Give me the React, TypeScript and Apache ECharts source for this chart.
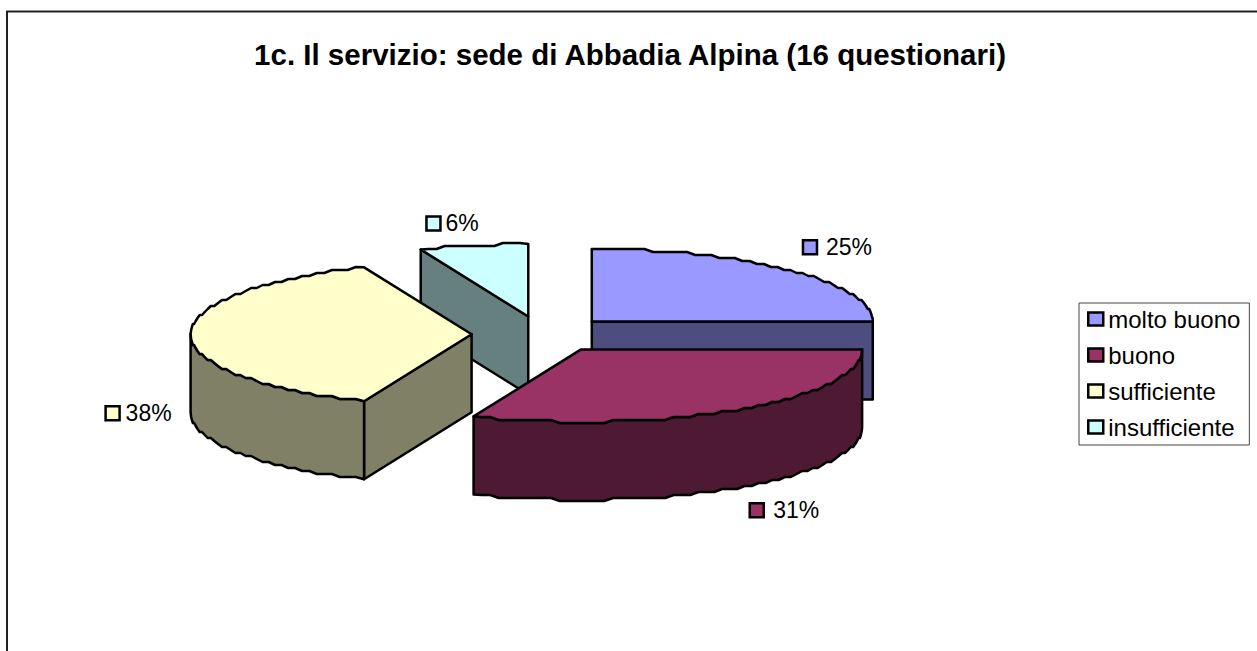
import React, { useEffect, useRef } from "react";
import * as echarts from "echarts";

const TITLE = "1c. Il servizio: sede di Abbadia Alpina (16 questionari)";
const categories = ["molto buono", "buono", "sufficiente", "insufficiente"];
const counts = [4, 5, 6, 1];
const topColors = ["#9999FF", "#993366", "#FFFFCC", "#CCFFFF"];
const wallColors = ["#4D4D80", "#4D1933", "#808066", "#668080"];
// label anchor relative to the slice's bisector point on the rim
const labelOffsets = [
  [11.5, -23],
  [11.5, 100.5],
  [-86, 79],
  [-48, -22],
];
const labelTextGaps = [24, 24.5, 21, 20];
const drawOrderZ = [3, 5, 4, 2];

const CX = 542;
const CY = 334.3;
const RX = 281;
const RY = 72.5;
const DEPTH = 78;
const EXPLODE = 70.4;
const RATIO = RY / RX;
const STEP = 3;

const total = counts.reduce((a, b) => a + b, 0);
const q = (v: number) => Math.round(v / STEP) * STEP;

function arcPoints(ax: number, ay: number, a0: number, a1: number, dy = 0) {
  const n = Math.max(2, Math.ceil(((a1 - a0) * RX) / 9));
  const pts: number[][] = [];
  for (let i = 0; i <= n; i++) {
    const t = a0 + ((a1 - a0) * i) / n;
    const x = ax + RX * Math.sin(t);
    const y = ay - RY * Math.cos(t);
    const keep = i === 0 || i === n;
    pts.push(keep ? [x, y + dy] : [x, q(y) + dy]);
  }
  return pts;
}

function renderSlice(idx: number) {
  return (_params: any, api: any) => {
    const before = counts.slice(0, idx).reduce((a, b) => a + b, 0);
    const value = api.value(0);
    const a0 = (before / total) * Math.PI * 2;
    const a1 = ((before + value) / total) * Math.PI * 2;
    const mid = (a0 + a1) / 2;
    const ax = CX + EXPLODE * Math.sin(mid);
    const ay = CY - EXPLODE * RATIO * Math.cos(mid);
    const lineStyle = { stroke: "#000", lineWidth: 2.5, lineJoin: "round" };
    const children: any[] = [];
    const wall = wallColors[idx];
    const face = (angle: number, normal: number) => {
      if (Math.cos(normal) >= -1e-6) return;
      const ex = ax + RX * Math.sin(angle);
      const ey = ay - RY * Math.cos(angle);
      children.push({
        type: "polygon",
        shape: { points: [[ax, ay], [ex, ey], [ex, ey + DEPTH], [ax, ay + DEPTH]] },
        style: { fill: wall, ...lineStyle },
      });
    };
    face(a0, a0 - Math.PI / 2);
    face(a1, a1 + Math.PI / 2);
    // outer wall: the part of the rim that faces the viewer
    const w0 = Math.max(a0, Math.PI / 2);
    const w1 = Math.min(a1, (Math.PI * 3) / 2);
    if (w1 > w0) {
      const upper = arcPoints(ax, ay, w0, w1);
      const lower = arcPoints(ax, ay, w0, w1, DEPTH).reverse();
      children.push({
        type: "polygon",
        shape: { points: [...upper, ...lower] },
        style: { fill: wall, ...lineStyle },
      });
    }
    // top face
    children.push({
      type: "polygon",
      shape: { points: [[ax, ay], ...arcPoints(ax, ay, a0, a1)] },
      style: { fill: topColors[idx], ...lineStyle },
    });
    // data label with its colour key
    const mx = ax + RX * Math.sin(mid) + labelOffsets[idx][0];
    const my = ay - RY * Math.cos(mid) + labelOffsets[idx][1];
    children.push({
      type: "rect",
      shape: { x: mx + 1, y: my - 7, width: 14, height: 14 },
      style: { fill: topColors[idx], stroke: "#000", lineWidth: 2.5 },
    });
    children.push({
      type: "text",
      x: mx + labelTextGaps[idx],
      y: my,
      style: {
        text: Math.round((value / total) * 100) + "%",
        fill: "#000",
        font: '23px "Liberation Sans"',
        verticalAlign: "middle",
        align: "left",
      },
    });
    return { type: "group", children };
  };
}

export default function App() {
  const ref = useRef<HTMLDivElement>(null);
  useEffect(() => {
    const chart = echarts.init(ref.current!, null, { renderer: "svg" });
    chart.setOption({
      animation: false,
      backgroundColor: "#fff",
      title: {
        text: TITLE,
        left: 625,
        top: 34,
        textAlign: "center",
        textStyle: { fontFamily: "Liberation Sans", fontSize: 29.5, fontWeight: "bold", color: "#000" },
      },
      legend: {
        data: categories,
        orient: "vertical",
        left: 1079,
        top: 303,
        padding: [4, 9, 6, 8],
        itemGap: 12,
        itemWidth: 15,
        itemHeight: 13,
        borderColor: "#444",
        borderWidth: 1,
        backgroundColor: "#fff",
        icon: "rect",
        selectedMode: false,
        itemStyle: { borderColor: "#000", borderWidth: 2.5 },
        textStyle: { fontFamily: "Liberation Sans", fontSize: 24, color: "#000" },
      },
      graphic: [
        { type: "polyline", shape: { points: [[7, 651], [7, 11.5], [1257, 11.5]] }, style: { stroke: "#222", fill: "none", lineWidth: 2 } },
      ],
      series: categories.map((name, i) => ({
        type: "custom",
        name,
        coordinateSystem: "none",
        z: drawOrderZ[i],
        itemStyle: { color: topColors[i] },
        data: [[counts[i]]],
        renderItem: renderSlice(i),
      })),
    });
    return () => chart.dispose();
  }, []);
  return <div ref={ref} style={{ position: "fixed", left: 0, top: 0, width: 1257, height: 651 }} />;
}
